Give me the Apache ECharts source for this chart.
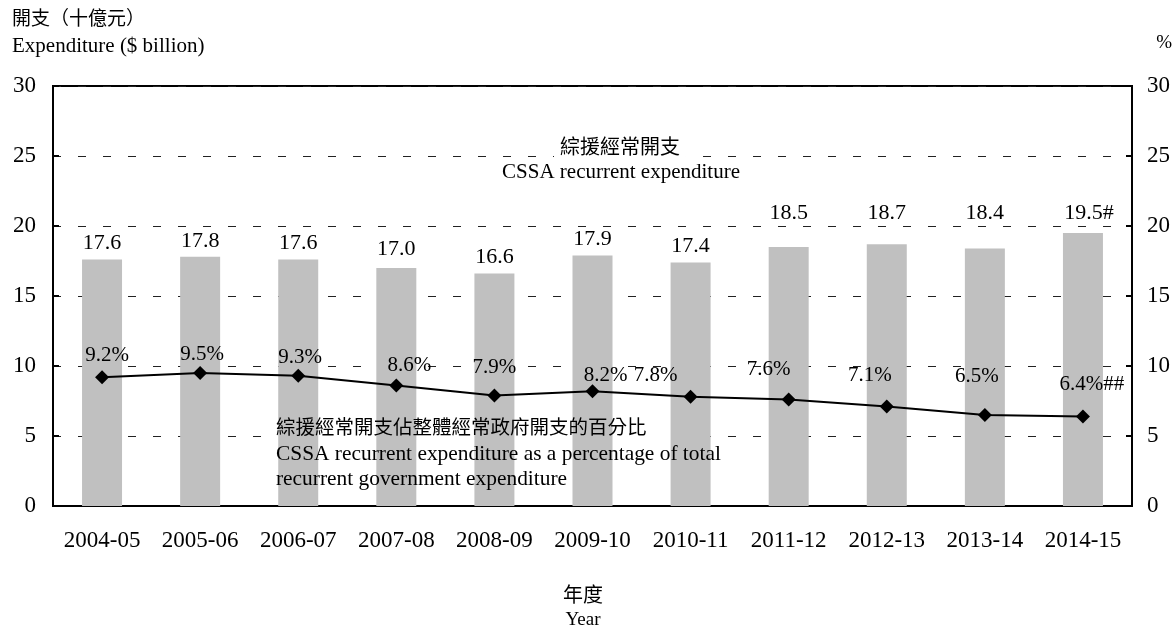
<!DOCTYPE html>
<html>
<head>
<meta charset="utf-8">
<script src="https://cdn.jsdelivr.net/npm/echarts@6/dist/echarts.min.js"></script>
<style>
  html, body { margin: 0; padding: 0; background: #fff; }
  #chart { width: 1176px; height: 629px; }
</style>
</head>
<body>
<div id="chart"></div>
<script>
// Financial years
const years = ['2004-05', '2005-06', '2006-07', '2007-08', '2008-09', '2009-10',
               '2010-11', '2011-12', '2012-13', '2013-14', '2014-15'];
// CSSA recurrent expenditure ($ billion)
const expenditure = [17.6, 17.8, 17.6, 17.0, 16.6, 17.9, 17.4, 18.5, 18.7, 18.4, 19.5];
// Share of total recurrent government expenditure (%)
const sharePct = [9.2, 9.5, 9.3, 8.6, 7.9, 8.2, 7.8, 7.6, 7.1, 6.5, 6.4];
// Footnote markers appended to the value labels
const expenditureNotes = ['', '', '', '', '', '', '', '', '', '', '#'];
const shareNotes = ['', '', '', '', '', '', '', '', '', '', '##'];
// Axis tick values (both axes share the same 0-30 scale)
const axisTicks = [0, 5, 10, 15, 20, 25, 30];

// Label nudges (pixels) so labels sit clear of the line and gridlines
const barLabelNudge = [
  [0, 0], [0, 0], [0, 0], [0, -3], [0, 0], [0, 0],
  [0, 0], [0, -18], [0, -15], [0, -19], [6, -4]
];
const lineLabelNudge = [
  [5, 1], [2, 4], [2, 4], [13, 2], [0, -5], [13, 7],
  [-35, 1], [-20, -8], [-17, -9], [-8, -16], [9, -9]
];

const FONT = "'Liberation Serif', 'Times New Roman', 'Noto Sans CJK TC', serif";
const CJK = "'Noto Sans CJK TC', 'Liberation Serif', serif";

const chart = echarts.init(document.getElementById('chart'), null, { renderer: 'canvas' });

const axisMin = axisTicks[0];
const axisMax = axisTicks[axisTicks.length - 1];
const step = axisTicks[1] - axisTicks[0];

const valueAxis = (pos, labelAlign, margin) => ({
  type: 'value',
  position: pos,
  min: axisMin,
  max: axisMax,
  interval: step,
  axisLine: { show: true, lineStyle: { color: '#000', width: 2 } },
  axisTick: { show: true, inside: true, length: 6, lineStyle: { color: '#000', width: 2 } },
  axisLabel: {
    color: '#000', fontFamily: FONT, fontSize: 23, margin: margin, align: labelAlign
  },
  splitLine: pos === 'left'
    ? { show: true, lineStyle: { color: '#222', width: 1, type: [8, 17] } }
    : { show: false }
});

chart.setOption({
  animation: false,
  backgroundColor: '#fff',
  grid: {
    left: 53, right: 44, top: 86, bottom: 123,
    show: true, borderColor: '#000', borderWidth: 2, backgroundColor: 'transparent'
  },
  xAxis: {
    type: 'category',
    data: years,
    boundaryGap: true,
    axisLine: { show: true, lineStyle: { color: '#000', width: 2 } },
    axisTick: { show: false },
    axisLabel: { color: '#000', fontFamily: FONT, fontSize: 23, margin: 23, interval: 0 }
  },
  yAxis: [
    valueAxis('left', 'right', 17),
    valueAxis('right', 'left', 15)
  ],
  graphic: [
    { type: 'text', left: 12, top: 8, z: 10,
      style: { text: '開支（十億元）', font: "19px " + CJK, fill: '#000' } },
    { type: 'text', left: 12, top: 36, z: 10,
      style: { text: 'Expenditure ($ billion)', font: "21px " + FONT, fill: '#000' } },
    { type: 'text', right: 4, top: 34, z: 10,
      style: { text: '%', font: "19px " + FONT, fill: '#000' } },
    // Series annotation for the bars (knocks out the dashed gridline behind it)
    { type: 'text', x: 620, y: 146, z: 10,
      style: { text: '綜援經常開支', font: "20px " + CJK, fill: '#000',
               align: 'center', verticalAlign: 'middle',
               backgroundColor: '#fff', padding: [2, 6] } },
    { type: 'text', x: 621, y: 172, z: 10,
      style: { text: 'CSSA recurrent expenditure', font: "21px " + FONT, fill: '#000',
               align: 'center', verticalAlign: 'middle' } },
    // White strip hides the gridline under the line annotation; bars still draw above it
    { type: 'rect', z: 1, shape: { x: 270, y: 414, width: 430, height: 28 },
      style: { fill: '#fff' } },
    { type: 'text', x: 276, y: 427, z: 10,
      style: { text: '綜援經常開支佔整體經常政府開支的百分比', font: "19.5px " + CJK, fill: '#000',
               align: 'left', verticalAlign: 'middle' } },
    { type: 'text', x: 276, y: 454, z: 10,
      style: { text: 'CSSA recurrent expenditure as a percentage of total', font: "21.4px " + FONT,
               fill: '#000', align: 'left', verticalAlign: 'middle' } },
    { type: 'text', x: 276, y: 479, z: 10,
      style: { text: 'recurrent government expenditure', font: "21.4px " + FONT,
               fill: '#000', align: 'left', verticalAlign: 'middle' } },
    // Category axis title
    { type: 'text', x: 583, y: 594, z: 10,
      style: { text: '年度', font: "20px " + CJK, fill: '#000',
               align: 'center', verticalAlign: 'middle' } },
    { type: 'text', x: 583, y: 620, z: 10,
      style: { text: 'Year', font: "19px " + FONT, fill: '#000',
               align: 'center', verticalAlign: 'middle' } }
  ],
  series: [
    {
      type: 'bar',
      yAxisIndex: 0,
      barWidth: 40,
      z: 2,
      itemStyle: { color: '#c0c0c0' },
      data: expenditure.map((v, i) => ({
        value: v,
        label: { offset: barLabelNudge[i] }
      })),
      label: {
        show: true, position: 'top', distance: 5,
        color: '#000', fontFamily: FONT, fontSize: 22,
        formatter: p => p.value.toFixed(1) + expenditureNotes[p.dataIndex]
      }
    },
    {
      type: 'line',
      yAxisIndex: 1,
      z: 5,
      symbol: 'diamond',
      symbolSize: 14,
      lineStyle: { color: '#000', width: 2 },
      itemStyle: { color: '#000' },
      data: sharePct.map((v, i) => ({
        value: v,
        label: { offset: lineLabelNudge[i] }
      })),
      label: {
        show: true, position: 'top', distance: 5,
        color: '#000', fontFamily: FONT, fontSize: 21,
        formatter: p => p.value.toFixed(1) + '%' + shareNotes[p.dataIndex]
      }
    }
  ]
});
</script>
</body>
</html>
